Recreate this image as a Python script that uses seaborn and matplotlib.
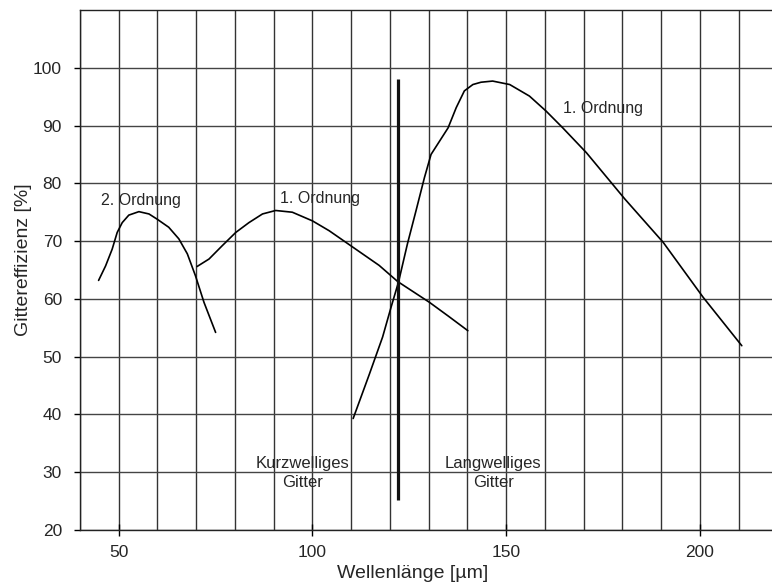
import matplotlib
matplotlib.use("Agg")
import matplotlib.pyplot as plt
import numpy as np
import pandas as pd
import seaborn as sns

# 2. Ordnung (kurzwelliges Gitter)
order2_x = [44.8, 46.6, 48.3, 49.6, 50.9, 52.6, 55.2, 57.8, 59.9, 62.9, 65.5, 67.7,
            69.8, 72.0, 75.0]
order2_y = [63.2, 65.7, 68.6, 71.5, 73.2, 74.5, 75.1, 74.7, 73.8, 72.4, 70.4, 67.8,
            64.0, 59.4, 54.2]

# 1. Ordnung (kurzwelliges Gitter)
short_x = [70.2, 73.3, 76.7, 80.2, 83.6, 87.1, 90.5, 94.8, 100.0, 104.3, 108.6,
           112.9, 117.2, 122.0, 126.1, 130.2, 135.1, 140.1]
short_y = [65.6, 66.9, 69.2, 71.5, 73.2, 74.7, 75.3, 75.0, 73.5, 71.8, 69.8,
           67.8, 65.8, 63.0, 61.2, 59.4, 57.0, 54.5]

# 1. Ordnung (langwelliges Gitter)
long_x = [110.5, 114.7, 118.1, 120.3, 122.2, 124.5, 126.7, 128.9, 130.6, 132.8, 135.0,
          137.1, 139.2, 141.4, 143.5, 146.5, 150.9, 156.0, 160.3, 164.6, 170.7, 180.6,
          190.5, 200.8, 210.8]
long_y = [39.3, 47.0, 53.4, 58.6, 62.9, 69.5, 75.2, 81.0, 85.0, 87.3, 89.6,
          93.1, 96.0, 97.1, 97.5, 97.7, 97.1, 95.1, 92.5, 89.6, 85.3, 77.3,
          69.8, 60.3, 51.9]

# Trennlinie zwischen den Gittern
divider_x = 122.2
divider_y = [25.2, 98.0]

curves = pd.concat([
    pd.DataFrame({"x": order2_x, "y": order2_y, "kurve": "2. Ordnung"}),
    pd.DataFrame({"x": short_x, "y": short_y, "kurve": "1. Ordnung kurz"}),
    pd.DataFrame({"x": long_x, "y": long_y, "kurve": "1. Ordnung lang"}),
])

sns.set_theme(style="white")
plt.rcParams["font.family"] = ["Liberation Sans", "DejaVu Sans"]

fig = plt.figure(figsize=(7.72, 5.88), dpi=100)
ax = fig.add_axes([80 / 772, 58 / 588, 1 - 80 / 772, 520 / 588])

sns.lineplot(data=curves, x="x", y="y", units="kurve", estimator=None, sort=False,
             color="black", linewidth=1.2, solid_joinstyle="round", ax=ax, zorder=3)
ax.vlines(divider_x, divider_y[0], divider_y[1], color="#111111", linewidth=2.3, zorder=4)

ax.set_xlim(40, 218.6)
ax.set_ylim(20, 110)
ax.set_xticks([50, 100, 150, 200])
ax.set_xticks(np.arange(40, 220, 10), minor=True)
ax.set_yticks(np.arange(20, 101, 10))

ax.grid(True, which="both", axis="x", color="#333333", linewidth=1.0)
ax.grid(True, which="major", axis="y", color="#444444", linewidth=1.0)
ax.set_axisbelow(True)

ax.tick_params(axis="x", which="major", direction="inout", length=8, width=1,
               color="black", labelsize=12.5, pad=7, bottom=True)
ax.tick_params(axis="x", which="minor", length=0)
ax.tick_params(axis="y", which="major", direction="out", length=4, width=1,
               color="black", labelsize=12.5, pad=9, left=True)

for side in ["left", "bottom", "top"]:
    ax.spines[side].set_color("#222222")
    ax.spines[side].set_linewidth(1.0)
ax.spines["right"].set_visible(False)

ax.set_xlabel("Wellenlänge [µm]", fontsize=14)
ax.set_ylabel("Gittereffizienz [%]", fontsize=14)
ax.xaxis.set_label_coords(0.48, -0.068)
ax.yaxis.set_label_coords(-0.07, 0.52)

ax.text(55.7, 77.0, "2. Ordnung", fontsize=11.5, ha="center", va="center")
ax.text(101.9, 77.4, "1. Ordnung", fontsize=11.5, ha="center", va="center")
ax.text(175.0, 93.0, "1. Ordnung", fontsize=11.5, ha="center", va="center")
ax.text(97.4, 29.9, "Kurzwelliges\nGitter", fontsize=12, ha="center", va="center",
        linespacing=1.3)
ax.text(146.7, 29.9, "Langwelliges\nGitter", fontsize=12, ha="center", va="center",
        linespacing=1.3)

fig.savefig("out.png", dpi=100, facecolor="white")
